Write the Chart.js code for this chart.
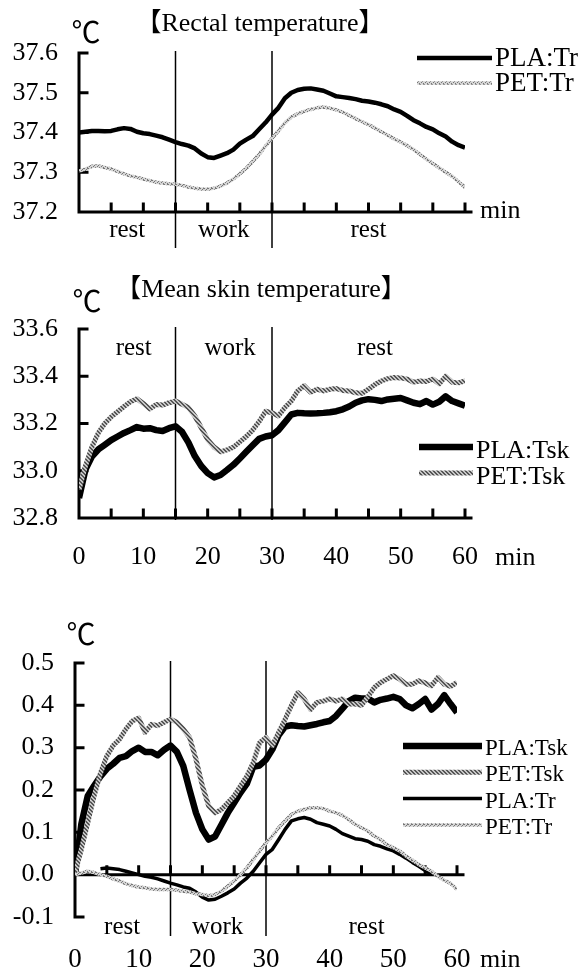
<!DOCTYPE html>
<html>
<head>
<meta charset="utf-8">
<script src="https://cdn.jsdelivr.net/npm/chart.js@4.4.1/dist/chart.umd.min.js"></script>
<style>
  body { margin: 0; background: #fff; }
  canvas { position: absolute; left: 0; }
</style>
</head>
<body>
<canvas id="rectal" width="579" height="270" style="top:0px"></canvas>
<canvas id="skin" width="579" height="330" style="top:270px"></canvas>
<canvas id="change" width="579" height="370" style="top:600px"></canvas>
<script>
const minutes = [0, 1, 2, 3, 4, 5, 6, 7, 8, 9, 10, 11, 12, 13, 14, 15, 16, 17, 18, 19, 20,
  21, 22, 23, 24, 25, 26, 27, 28, 29, 30, 31, 32, 33, 34, 35, 36, 37, 38, 39, 40,
  41, 42, 43, 44, 45, 46, 47, 48, 49, 50, 51, 52, 53, 54, 55, 56, 57, 58, 59, 60];
const phaseLines = [15, 30];
const xTickMarks = [5, 10, 15, 20, 25, 30, 35, 40, 45, 50, 55, 60];

// rectal temperature, deg C
const plaTr = [37.400, 37.402, 37.404, 37.404, 37.403, 37.404, 37.408, 37.411, 37.409, 37.402, 37.398,
  37.396, 37.392, 37.388, 37.382, 37.376, 37.371, 37.367, 37.360, 37.347, 37.338,
  37.336, 37.342, 37.348, 37.357, 37.372, 37.382, 37.391, 37.408, 37.425, 37.445,
  37.462, 37.486, 37.500, 37.507, 37.510, 37.511, 37.508, 37.505, 37.498, 37.491,
  37.489, 37.487, 37.484, 37.480, 37.478, 37.475, 37.471, 37.466, 37.458, 37.452,
  37.442, 37.431, 37.423, 37.414, 37.408, 37.398, 37.390, 37.377, 37.368, 37.362];
const petTr = [37.303, 37.308, 37.315, 37.316, 37.312, 37.308, 37.302, 37.296, 37.291, 37.287, 37.283,
  37.279, 37.275, 37.273, 37.271, 37.270, 37.267, 37.263, 37.260, 37.258, 37.257,
  37.260, 37.265, 37.273, 37.283, 37.296, 37.310, 37.327, 37.345, 37.366, 37.385,
  37.404, 37.424, 37.439, 37.447, 37.453, 37.458, 37.462, 37.464, 37.461, 37.457,
  37.451, 37.443, 37.435, 37.427, 37.420, 37.411, 37.402, 37.393, 37.384, 37.376,
  37.367, 37.357, 37.345, 37.333, 37.322, 37.311, 37.300, 37.290, 37.276, 37.262];

// mean skin temperature, deg C
const plaTsk = [32.885, 33.005, 33.060, 33.090, 33.110, 33.130, 33.145, 33.160, 33.172, 33.185, 33.178,
  33.180, 33.172, 33.168, 33.180, 33.188, 33.165, 33.120, 33.062, 33.020, 32.990,
  32.972, 32.982, 33.003, 33.025, 33.052, 33.080, 33.108, 33.135, 33.145, 33.150,
  33.172, 33.205, 33.238, 33.245, 33.243, 33.242, 33.243, 33.245, 33.248, 33.252,
  33.260, 33.272, 33.288, 33.298, 33.303, 33.300, 33.295, 33.302, 33.305, 33.308,
  33.298, 33.288, 33.282, 33.295, 33.280, 33.292, 33.315, 33.295, 33.285, 33.275];
const petTsk = [32.920, 33.020, 33.100, 33.160, 33.200, 33.228, 33.250, 33.272, 33.292, 33.305, 33.285,
  33.262, 33.280, 33.278, 33.288, 33.295, 33.282, 33.268, 33.232, 33.182, 33.132,
  33.100, 33.080, 33.088, 33.100, 33.122, 33.145, 33.172, 33.208, 33.252, 33.245,
  33.232, 33.268, 33.295, 33.338, 33.360, 33.332, 33.345, 33.338, 33.345, 33.348,
  33.340, 33.338, 33.330, 33.328, 33.345, 33.365, 33.380, 33.390, 33.395, 33.393,
  33.388, 33.375, 33.380, 33.378, 33.388, 33.368, 33.400, 33.375, 33.372, 33.380];

// change from start, deg C
const plaTskChange = [0.000, 0.120, 0.186, 0.210, 0.232, 0.250, 0.262, 0.276, 0.280, 0.292, 0.300,
  0.290, 0.290, 0.282, 0.295, 0.305, 0.290, 0.257, 0.200, 0.146, 0.107,
  0.083, 0.090, 0.118, 0.146, 0.170, 0.194, 0.215, 0.255, 0.258, 0.272,
  0.296, 0.330, 0.350, 0.353, 0.351, 0.350, 0.353, 0.356, 0.360, 0.363,
  0.375, 0.392, 0.410, 0.418, 0.416, 0.416, 0.407, 0.413, 0.416, 0.420,
  0.415, 0.400, 0.393, 0.403, 0.415, 0.390, 0.403, 0.424, 0.403, 0.383];
const petTskChange = [0.004, 0.060, 0.123, 0.186, 0.240, 0.280, 0.305, 0.320, 0.344, 0.363, 0.370,
  0.336, 0.355, 0.352, 0.360, 0.367, 0.360, 0.344, 0.324, 0.273, 0.210,
  0.162, 0.146, 0.154, 0.170, 0.186, 0.210, 0.233, 0.265, 0.312, 0.324,
  0.305, 0.336, 0.367, 0.400, 0.430, 0.415, 0.390, 0.407, 0.410, 0.415,
  0.410, 0.415, 0.403, 0.403, 0.400, 0.420, 0.442, 0.454, 0.462, 0.470,
  0.462, 0.450, 0.450, 0.458, 0.453, 0.446, 0.466, 0.450, 0.445, 0.454];
const plaTrChange = [null, null, null, null, 0.014, 0.016, 0.014, 0.012, 0.008, 0.004, 0.000,
  -0.004, -0.006, -0.010, -0.015, -0.020, -0.024, -0.029, -0.032, -0.041, -0.053,
  -0.060, -0.058, -0.051, -0.043, -0.034, -0.020, -0.008, 0.008, 0.028, 0.048,
  0.060, 0.083, 0.107, 0.127, 0.132, 0.135, 0.131, 0.123, 0.119, 0.115,
  0.107, 0.097, 0.091, 0.085, 0.083, 0.079, 0.071, 0.067, 0.061, 0.056,
  0.048, 0.039, 0.029, 0.020, 0.010, 0.001, null, null, null, null];
const petTrChange = [0.000, 0.004, 0.008, 0.005, 0.000, -0.004, -0.010, -0.015, -0.021, -0.026, -0.029,
  -0.031, -0.034, -0.035, -0.035, -0.035, -0.037, -0.039, -0.041, -0.045, -0.047,
  -0.050, -0.047, -0.039, -0.027, -0.015, 0.000, 0.016, 0.036, 0.056, 0.075,
  0.091, 0.111, 0.127, 0.142, 0.150, 0.154, 0.158, 0.158, 0.156, 0.150,
  0.146, 0.140, 0.130, 0.119, 0.111, 0.103, 0.091, 0.083, 0.071, 0.064,
  0.056, 0.044, 0.034, 0.024, 0.016, 0.008, -0.004, -0.013, -0.021, -0.035];

const serif = "'Liberation Serif', 'Noto Sans CJK JP', serif";
const cjk = "'Noto Sans CJK JP', 'Liberation Serif', serif";

// printed gray textures of the PET lines
const texture = (dark, light, pixels) => {
  const c = document.createElement("canvas");
  c.width = 4;
  c.height = 4;
  const g = c.getContext("2d");
  g.fillStyle = light;
  g.fillRect(0, 0, 4, 4);
  g.fillStyle = dark;
  pixels.forEach(([px, py]) => g.fillRect(px, py, 1, 1));
  return g.createPattern(c, "repeat");
};
const hatchGray = texture("#555", "#c6c6c6", [[0, 0], [1, 1], [2, 2], [3, 3], [1, 0], [2, 1], [3, 2], [0, 3]]);
const dotGray = texture("#777", "#d4d4d4", [[0, 0], [2, 1], [1, 2], [3, 3], [3, 0]]);

const frame = {
  id: "frame",
  beforeDatasetsDraw(chart, args, o) {
    const { ctx, chartArea: a, scales: { x, y } } = chart;
    const axisY = o.axisAt === undefined ? a.bottom : y.getPixelForValue(o.axisAt);
    ctx.save();
    ctx.strokeStyle = "#000";
    ctx.lineWidth = 1.5;
    phaseLines.forEach((t) => {
      const px = x.getPixelForValue(t);
      ctx.beginPath();
      ctx.moveTo(px, a.top - 2);
      ctx.lineTo(px, a.bottom + o.phaseDrop);
      ctx.stroke();
    });
    ctx.lineWidth = 3;
    ctx.lineCap = "square";
    ctx.beginPath();
    ctx.moveTo(a.left, a.top);
    ctx.lineTo(a.left, a.bottom);
    ctx.moveTo(a.left, axisY);
    ctx.lineTo(a.right + 6, axisY);
    y.ticks.forEach((t) => {
      const py = y.getPixelForValue(t.value);
      ctx.moveTo(a.left, py);
      ctx.lineTo(a.left + 8, py);
    });
    xTickMarks.forEach((t) => {
      const px = x.getPixelForValue(t);
      ctx.moveTo(px, axisY);
      ctx.lineTo(px, axisY - 8);
    });
    ctx.stroke();
    ctx.restore();
  },
  afterDraw(chart, args, o) {
    const { ctx, scales: { x } } = chart;
    ctx.save();
    ctx.fillStyle = "#000";
    ctx.textBaseline = "middle";
    ctx.textAlign = "center";
    ctx.font = "29px " + cjk;
    ctx.fillText("℃", o.unit[0], o.unit[1]);
    ctx.font = "26px " + serif;
    if (o.title) {
      ctx.fillText(o.title, o.titleAt[0], o.titleAt[1]);
    }
    ctx.font = "25px " + serif;
    o.phases.forEach(([label, t]) => ctx.fillText(label, x.getPixelForValue(t), o.phaseY));
    ctx.textAlign = "left";
    ctx.font = "26px " + serif;
    ctx.fillText("min", o.minAt[0], o.minAt[1]);

    const lg = o.legend;
    ctx.font = lg.size + "px " + serif;
    chart.data.datasets.forEach((d, i) => {
      const ly = lg.y + i * lg.gap;
      ctx.strokeStyle = d.borderColor;
      ctx.lineWidth = d.borderWidth;
      ctx.beginPath();
      ctx.moveTo(lg.x1, ly);
      ctx.lineTo(lg.x2, ly);
      ctx.stroke();
      ctx.fillText(d.label, lg.x2 + 3, ly + lg.dy);
    });
    ctx.restore();
  },
};

const makeChart = (id, p) => {
  return new Chart(id, {
    type: "line",
    data: {
      labels: minutes,
      datasets: p.datasets.map((d, i) => ({
        label: d.label,
        data: d.data,
        borderColor: d.color,
        borderWidth: d.width,
        order: p.datasets.length - i,
        pointRadius: 0,
        tension: 0,
        borderJoinStyle: "round",
        spanGaps: false,
      })),
    },
    options: {
      responsive: false,
      animation: false,
      events: [],
      layout: { padding: { top: p.top, right: p.right, left: 0, bottom: 0 } },
      plugins: {
        legend: { display: false },
        tooltip: { enabled: false },
        frame: p.frame,
      },
      scales: {
        x: {
          type: "linear",
          min: 0,
          max: 60,
          grid: { display: false, drawTicks: false },
          border: { display: false },
          ticks: {
            display: p.xLabels,
            stepSize: 10,
            padding: p.xPad,
            maxRotation: 0,
            autoSkip: false,
            color: "#000",
            font: { family: serif, size: p.xFont },
          },
          afterFit: (s) => {
            s.height = p.xHeight;
          },
        },
        y: {
          min: p.yMin,
          max: p.yMax,
          grid: { display: false, drawTicks: false },
          border: { display: false },
          ticks: {
            stepSize: p.yStep,
            padding: 21,
            color: "#000",
            font: { family: serif, size: 26 },
            callback: (v) => (Math.abs(v) < 1e-9 ? 0 : v).toFixed(1),
          },
          afterFit: (s) => {
            s.width = p.yWidth;
          },
        },
      },
    },
    plugins: [frame],
  });
};

makeChart("rectal", {
  top: 53, right: 114, yWidth: 79, xHeight: 58,
  yMin: 37.2, yMax: 37.6, yStep: 0.1,
  xLabels: false, xPad: 0, xFont: 26,
  datasets: [
    { label: "PLA:Tr", data: plaTr, color: "#000", width: 4.5 },
    { label: "PET:Tr", data: petTr, color: dotGray, width: 3.5 },
  ],
  frame: {
    phaseDrop: 36,
    unit: [86, 32],
    title: "【Rectal temperature】",
    titleAt: [260, 24],
    phases: [["rest", 7.5], ["work", 22.5], ["rest", 45]],
    phaseY: 230,
    minAt: [480, 211],
    legend: { x1: 417, x2: 492, y: 58, gap: 25, dy: 1, size: 27 },
  },
});

makeChart("skin", {
  top: 59, right: 114, yWidth: 79, xHeight: 82,
  yMin: 32.8, yMax: 33.6, yStep: 0.2,
  xLabels: true, xPad: 24, xFont: 26,
  datasets: [
    { label: "PLA:Tsk", data: plaTsk, color: "#000", width: 6.5 },
    { label: "PET:Tsk", data: petTsk, color: hatchGray, width: 5 },
  ],
  frame: {
    phaseDrop: 2,
    unit: [87, 31],
    title: "【Mean skin temperature】",
    titleAt: [261, 20],
    phases: [["rest", 8.5], ["work", 23.5], ["rest", 46]],
    phaseY: 78,
    minAt: [495, 288],
    legend: { x1: 419, x2: 473, y: 177, gap: 26, dy: 4, size: 26 },
  },
});

makeChart("change", {
  top: 63, right: 122, yWidth: 75, xHeight: 53,
  yMin: -0.1, yMax: 0.5, yStep: 0.1,
  xLabels: true, xPad: 27, xFont: 27,
  datasets: [
    { label: "PLA:Tsk", data: plaTskChange, color: "#000", width: 6.5 },
    { label: "PET:Tsk", data: petTskChange, color: hatchGray, width: 5 },
    { label: "PLA:Tr", data: plaTrChange, color: "#000", width: 3.5 },
    { label: "PET:Tr", data: petTrChange, color: dotGray, width: 3.5 },
  ],
  frame: {
    axisAt: 0,
    phaseDrop: 19,
    unit: [81, 34],
    phases: [["rest", 7.4], ["work", 22.4], ["rest", 45.8]],
    phaseY: 327,
    minAt: [480, 360],
    legend: { x1: 403, x2: 482, y: 146, gap: 26.3, dy: 3, size: 23 },
  },
});
</script>
</body>
</html>
